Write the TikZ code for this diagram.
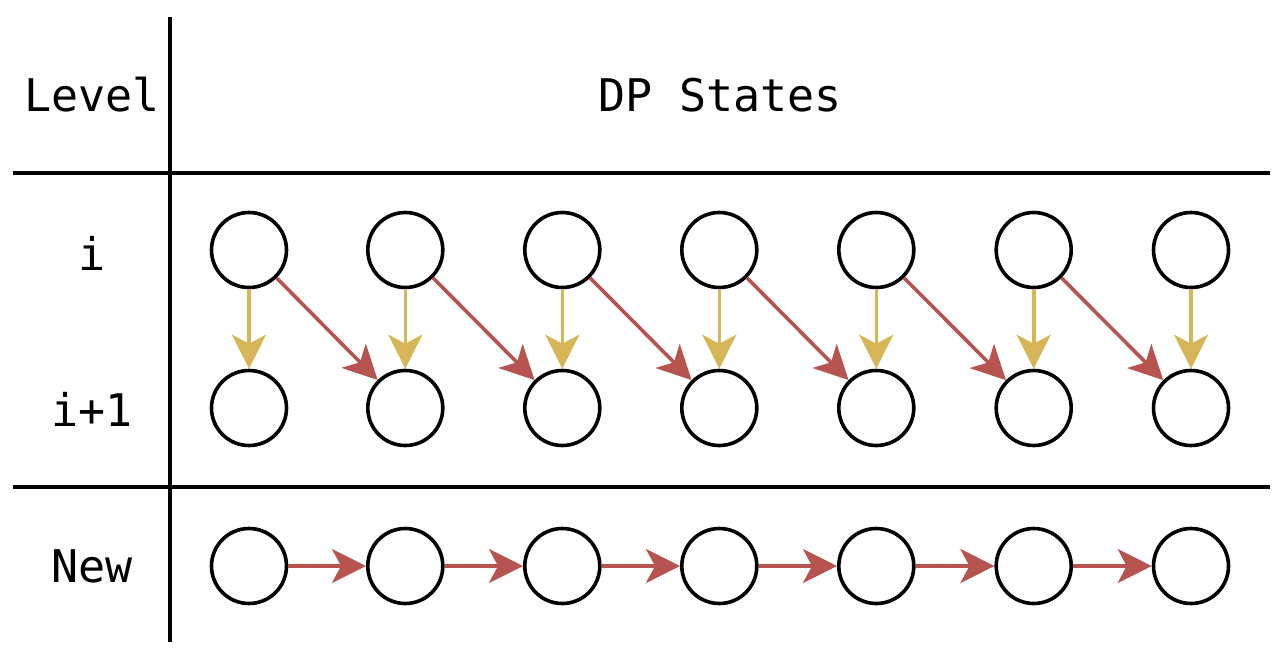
\documentclass[tikz,border=0pt]{standalone}
\usepackage{fontspec}
\setmonofont{DejaVu Sans Mono}
\usetikzlibrary{arrows.meta}
\definecolor{redarr}{HTML}{B85450}
\definecolor{yelarr}{HTML}{D6B656}
\tikzset{
  state/.style={circle,draw=black,line width=3.6pt,minimum size=75pt,inner sep=0pt},
  lbl/.style={font=\ttfamily\fontsize{45}{50}\selectfont,inner sep=0pt},
  rule/.style={line width=3.4pt,black},
  yarr/.style={draw=yelarr,line width=3.6pt,-{Stealth[length=34pt,width=34pt,inset=9pt]}},
  rarr/.style={draw=redarr,line width=3.6pt,-{Stealth[length=34pt,width=34pt,inset=9pt]}},
}
\begin{document}
\begin{tikzpicture}[x=1pt,y=-1pt]
\useasboundingbox (0,0) rectangle (1284,656);
\draw[rule] (170,17) -- (170,642);
\draw[rule] (13,173) -- (1270,173);
\draw[rule] (13,487) -- (1270,487);
\node[lbl] (level) at (92,95) {Level};
\node[lbl] (dp) at (720,95) {DP States};
\node[lbl] (li) at (92,253) {i};
\node[lbl] (li1) at (92,409) {i+1};
\node[lbl] (lnew) at (92,566) {New};
\foreach \k/\x in {1/249,2/405.3,3/562.3,4/719.3,5/876.3,6/1033.7,7/1191}{
  \node[state] (a\k) at (\x,250) {};
  \node[state] (b\k) at (\x,408) {};
  \node[state] (c\k) at (\x,566) {};
}
\foreach \k in {1,...,7}{
  \draw[yarr] (a\k) -- (b\k);
}
\foreach \k/\n in {1/2,2/3,3/4,4/5,5/6,6/7}{
  \draw[rarr] (a\k) -- (b\n);
  \draw[rarr] (c\k) -- (c\n);
}
\end{tikzpicture}
\end{document}
